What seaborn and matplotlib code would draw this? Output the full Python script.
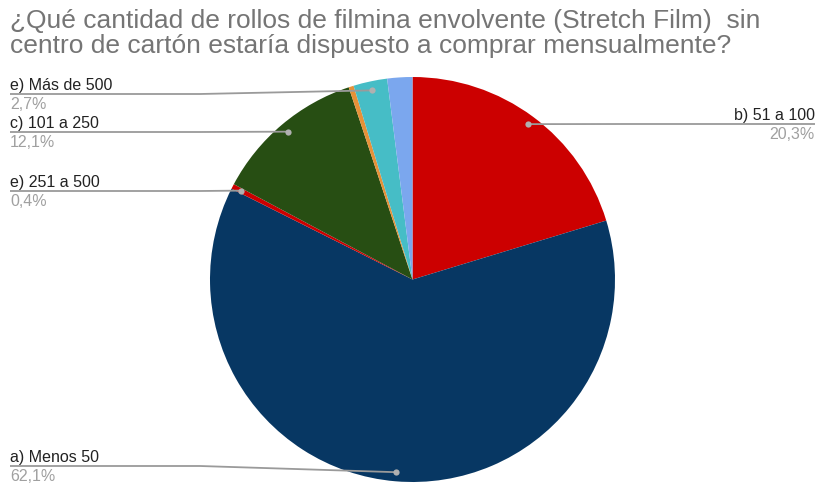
import numpy as np
import matplotlib.pyplot as plt
import seaborn as sns

# survey answers, clockwise from 12 o'clock
categories = ["b) 51 a 100", "a) Menos 50", "e) 251 a 500", "c) 101 a 250",
              "d) Otro", "e) Más de 500", "f) Sin respuesta"]
shares = [20.3, 62.1, 0.4, 12.1, 0.4, 2.7, 2.0]
colors = ["#cc0000", "#073763", "#cc0000", "#274e13", "#e69138", "#46bdc6", "#7ba7ee"]

title_lines = ["¿Qué cantidad de rollos de filmina envolvente (Stretch Film)  sin",
               "centro de cartón estaría dispuesto a comprar mensualmente?"]

# label layout in pixels: (side, y of leader line); slices missing here get no label
label_layout = {
    "b) 51 a 100": ("right", 124),
    "a) Menos 50": ("left", 466),
    "e) 251 a 500": ("left", 191),
    "c) 101 a 250": ("left", 132),
    "e) Más de 500": ("left", 94),
}

W, H = 818, 484
cx, cy, r = 412.5, 279.5, 202.5

sns.set_theme(style="white")
plt.rcParams["font.family"] = ["Liberation Sans", "DejaVu Sans"]

fig = plt.figure(figsize=(W / 100, H / 100), dpi=100)
ax = fig.add_axes([0, 0, 1, 1])

ax.pie(shares, colors=colors, startangle=90, counterclock=False,
       center=(cx, H - cy), radius=r, frame=True,
       wedgeprops=dict(linewidth=0))
ax.set_xlim(0, W)
ax.set_ylim(0, H)
ax.set_aspect("equal")
ax.axis("off")

# leader lines and labels
line_col = "#9a9a9a"
cum = 0
for name, v in zip(categories, shares):
    theta = np.deg2rad(360 * (cum + v / 2) / 100)
    cum += v
    if name not in label_layout:
        continue
    side, ly = label_layout[name]
    dx = cx + 0.955 * r * np.sin(theta)
    dy = cy - 0.955 * r * np.cos(theta)
    if side == "left":
        xs = [10, 200, dx]
        tx, ha = 10, "left"
    else:
        xs = [815, 625, dx]
        tx, ha = 815, "right"
    ys = [H - ly, H - ly, H - dy]
    ax.plot(xs, ys, color=line_col, lw=1.3, solid_capstyle="butt")
    ax.plot(dx, H - dy, "o", color="#b0b0b0", ms=4.5, mec="none")
    ax.text(tx, H - ly + 4, name, ha=ha, va="baseline", fontsize=11.5, color="#222222")
    ax.text(tx, H - ly - 3, f"{v:.1f}%".replace(".", ","), ha=ha, va="top",
            fontsize=11.5, color="#a0a0a0")

for i, line in enumerate(title_lines):
    ax.text(10, H - (28 + 25 * i), line, ha="left", va="baseline", fontsize=19,
            color="#757575")

fig.savefig("out.png", dpi=100)
